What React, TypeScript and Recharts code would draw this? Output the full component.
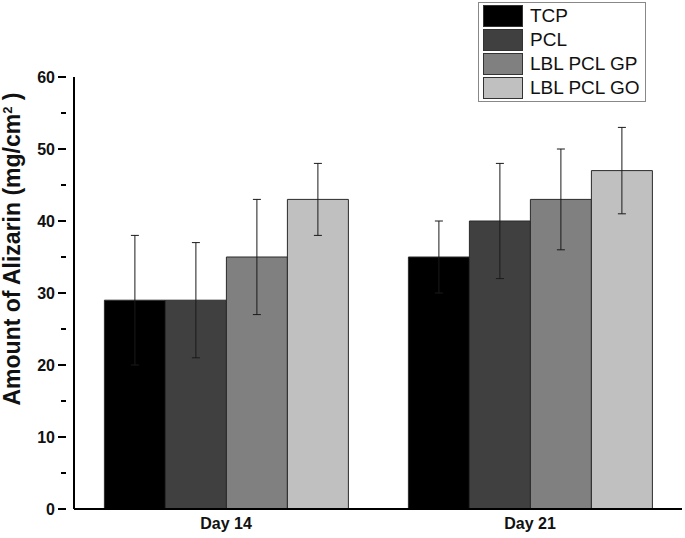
import { Bar, BarChart, ErrorBar, XAxis, YAxis } from "recharts";

const categories = ["Day 14", "Day 21"];
const tcp = [29, 35];
const tcpErr = [9, 5];
const pcl = [29, 40];
const pclErr = [8, 8];
const lblGp = [35, 43];
const lblGpErr = [8, 7];
const lblGo = [43, 47];
const lblGoErr = [5, 6];
const yTicks = [0, 5, 10, 15, 20, 25, 30, 35, 40, 45, 50, 55, 60];

const SERIES = [
  { key: "tcp", name: "TCP", color: "#000000" },
  { key: "pcl", name: "PCL", color: "#404040" },
  { key: "gp", name: "LBL PCL GP", color: "#808080" },
  { key: "go", name: "LBL PCL GO", color: "#c0c0c0" }
];

const rows = categories.map((day, i) => ({
  day,
  tcp: tcp[i],
  tcpErr: tcpErr[i],
  pcl: pcl[i],
  pclErr: pclErr[i],
  gp: lblGp[i],
  gpErr: lblGpErr[i],
  go: lblGo[i],
  goErr: lblGoErr[i]
}));

const FONT = "Arial, 'Liberation Sans', sans-serif";

function YTick({ x, y, payload }: any) {
  const major = payload.value % 10 === 0;
  return (
    <g>
      <line x1={x - (major ? 8 : 5)} x2={x} y1={y} y2={y} stroke="#000" strokeWidth={2} />
      {major && (
        <text x={x - 11} y={y} dy={6} textAnchor="end" fontSize={16} fontWeight="bold" fontFamily={FONT} fill="#111">
          {payload.value}
        </text>
      )}
    </g>
  );
}

function LegendBox() {
  return (
    <div
      style={{
        position: "absolute",
        left: 478,
        top: 2,
        width: 158,
        border: "1.5px solid #888",
        padding: "1px 4px",
        background: "#fff",
        fontFamily: FONT,
        fontSize: 19,
        color: "#111"
      }}
    >
      {SERIES.map((s) => (
        <div key={s.key} style={{ display: "flex", alignItems: "center", height: 24 }}>
          <span
            style={{
              width: 38,
              height: 20,
              background: s.color,
              border: "1px solid #333",
              marginRight: 7,
              display: "inline-block"
            }}
          />
          {s.name}
        </div>
      ))}
    </div>
  );
}

function YLabel() {
  return (
    <text
      x={20}
      y={249}
      transform="rotate(-90 20 249)"
      textAnchor="middle"
      fontSize={23}
      fontWeight="bold"
      fontFamily={FONT}
      fill="#111"
    >
      Amount of Alizarin (mg/cm
      <tspan dy={-8} fontSize={13}>2</tspan>
      <tspan dy={8}> )</tspan>
    </text>
  );
}

export default function App() {
  return (
    <div style={{ position: "absolute", left: 0, top: 0, width: 685, height: 538, background: "#fff" }}>
      <BarChart
        width={685}
        height={538}
        data={rows}
        margin={{ top: 77, right: 3, bottom: 0, left: 0 }}
        barCategoryGap="10%"
        barGap={0}
      >
        <XAxis
          dataKey="day"
          height={29}
          axisLine={{ stroke: "#000", strokeWidth: 2 }}
          tickLine={false}
          tick={{ fontSize: 16, fontWeight: "bold", fontFamily: FONT, fill: "#111" }}
          tickMargin={3}
          padding={{ left: 0, right: 0 }}
        />
        <YAxis
          width={74}
          domain={[0, 60]}
          ticks={yTicks}
          interval={0}
          axisLine={{ stroke: "#000", strokeWidth: 2 }}
          tickLine={false}
          tick={<YTick />}
          label={<YLabel />}
        />
        {SERIES.map((s) => (
          <Bar key={s.key} dataKey={s.key} name={s.name} fill={s.color} stroke="#2a2a2a" strokeWidth={1} isAnimationActive={false}>
            <ErrorBar dataKey={`${s.key}Err`} width={4} stroke="#1a1a1a" strokeWidth={1} direction="y" />
          </Bar>
        ))}
      </BarChart>
      <LegendBox />
    </div>
  );
}
